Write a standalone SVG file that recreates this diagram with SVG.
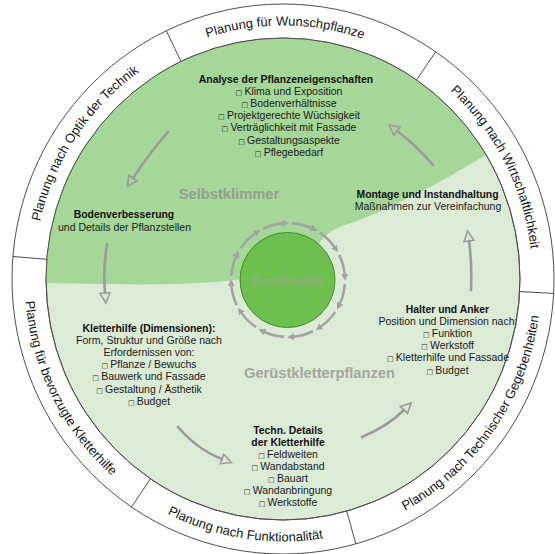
<svg xmlns="http://www.w3.org/2000/svg" width="555" height="554" viewBox="0 0 555 554">
<style>
.ring{font-family:"Liberation Sans",Arial,sans-serif;font-size:13px;fill:#151515}
.t{font-family:"Liberation Sans",Arial,sans-serif;font-size:10.5px;fill:#1a1a1a;text-anchor:middle}
.b{font-weight:bold;font-size:10.4px;fill:#111}
.bx{font-family:"DejaVu Sans",sans-serif;font-size:7px}
.big{font-family:"Liberation Sans",Arial,sans-serif;font-size:14.7px;font-weight:bold;text-anchor:middle}
.div{stroke:#3a3a3a;stroke-width:0.9;fill:none}
.arr{fill:none;stroke:#9b9b9b;stroke-width:2.6;stroke-linecap:round}
.dash{fill:none;stroke:#a3a3a3;stroke-width:2.6}
</style>
<defs>
<marker id="ah" markerWidth="16" markerHeight="16" refX="1" refY="6" orient="auto" markerUnits="userSpaceOnUse">
<path d="M1,1 L11,6 L1,11 Z" fill="none" stroke="#9b9b9b" stroke-width="1.6" stroke-linejoin="miter"/>
</marker>
<marker id="sh" markerWidth="8" markerHeight="8" refX="2" refY="3.5" orient="auto" markerUnits="userSpaceOnUse">
<path d="M0,0 L7,3.5 L0,7 Z" fill="#a3a3a3"/>
</marker>
<path id="p1" d="M160.15,58.35 A249.5,253.5 0 0,1 409.6,60.6"/>
<path id="p2" d="M417.4,65.4 A249.5,253.5 0 0,1 532.2,290.5"/>
<path id="p3" d="M384.0,520.6 A258.5,262.5 0 0,0 541.1,292.7"/>
<path id="p4" d="M121.0,483.6 A258.5,262.5 0 0,0 376.5,523.7"/>
<path id="p5" d="M25.6,255.2 A258.5,262.5 0 0,0 149.1,503.5"/>
<path id="p6" d="M34.1,261.3 A249.5,253.5 0 0,1 173.6,51.2"/>
</defs>
<rect width="555" height="554" fill="#ffffff"/>

<g id="outer-ring">
<ellipse cx="283" cy="279" rx="271" ry="275" fill="#ffffff" stroke="#3a3a3a" stroke-width="0.9"/>
<line class="div" x1="181.0" y1="61.5" x2="166.3" y2="30.8"/>
<line class="div" x1="416.6" y1="79.9" x2="435.7" y2="51.8"/>
<line class="div" x1="519.7" y1="291.6" x2="553.6" y2="293.4"/>
<line class="div" x1="346.7" y1="511.1" x2="355.9" y2="543.9"/>
<line class="div" x1="150.5" y1="478.8" x2="131.5" y2="507.0"/>
<line class="div" x1="46.8" y1="259.3" x2="12.9" y2="256.5"/>
</g>
<g id="ring-wunschpflanze"><text class="ring"><textPath href="#p1" startOffset="50%" text-anchor="middle">Planung für Wunschpflanze</textPath></text></g>
<g id="ring-wirtschaftlichkeit"><text class="ring"><textPath href="#p2" startOffset="50%" text-anchor="middle">Planung nach Wirtschaftlichkeit</textPath></text></g>
<g id="ring-technisch"><text class="ring"><textPath href="#p3" startOffset="50%" text-anchor="middle">Planung nach Technischer Gegebenheiten</textPath></text></g>
<g id="ring-funktionalitaet"><text class="ring"><textPath href="#p4" startOffset="50%" text-anchor="middle">Planung nach Funktionalität</textPath></text></g>
<g id="ring-kletterhilfe"><text class="ring"><textPath href="#p5" startOffset="50%" text-anchor="middle">Planung für bevorzugte Kletterhilfe</textPath></text></g>
<g id="ring-optik"><text class="ring"><textPath href="#p6" startOffset="50%" text-anchor="middle">Planung nach Optik der Technik</textPath></text></g>

<g id="inner-disk">
<ellipse cx="283" cy="279" rx="237" ry="241" fill="#dcebd6" stroke="#4a4a4a" stroke-width="0.9"/>
<path d="M46,283 C100,284 190,287 241,279 L287,280 L318,246 C322,238 330,230 345,225 C370,217 390,207 420,192 C445,180 465,167 486,155 A237,241 0 0,0 46,283 Z" fill="#a5d798"/>
<ellipse cx="283" cy="279" rx="237" ry="241" fill="none" stroke="#4a4a4a" stroke-width="0.9"/>
</g>

<g id="label-selbstklimmer"><text class="big" x="229" y="198.5" fill="#939f8f">Selbstklimmer</text></g>
<g id="label-geruest"><text class="big" x="319.5" y="378" fill="#a2a8a0">Gerüstkletterpflanzen</text></g>

<g id="connectors">
<path class="arr" d="M168,132 Q151,151 133,178" marker-end="url(#ah)"/>
<path class="arr" d="M107,244 Q103,270 105,293" marker-end="url(#ah)"/>
<path class="arr" d="M178,427 Q198,450 222,459" marker-end="url(#ah)"/>
<path class="arr" d="M362,437 Q388,426 404,410" marker-end="url(#ah)"/>
<path class="arr" d="M471,290 Q472,262 469,241" marker-end="url(#ah)"/>
<path class="arr" d="M433,165 Q416,145 397,131" marker-end="url(#ah)"/>
</g>

<g id="cycle-ring">
<path class="dash" d="M344.86,283.98 A57,57 0 0,1 339.23,304.99" marker-end="url(#sh)"/>
<path class="dash" d="M335.26,311.87 A57,57 0 0,1 319.87,327.26" marker-end="url(#sh)"/>
<path class="dash" d="M312.99,331.23 A57,57 0 0,1 291.98,336.86" marker-end="url(#sh)"/>
<path class="dash" d="M284.02,336.86 A57,57 0 0,1 263.01,331.23" marker-end="url(#sh)"/>
<path class="dash" d="M256.13,327.26 A57,57 0 0,1 240.74,311.87" marker-end="url(#sh)"/>
<path class="dash" d="M236.77,304.99 A57,57 0 0,1 231.14,283.98" marker-end="url(#sh)"/>
<path class="dash" d="M231.14,276.02 A57,57 0 0,1 236.77,255.01" marker-end="url(#sh)"/>
<path class="dash" d="M240.74,248.13 A57,57 0 0,1 256.13,232.74" marker-end="url(#sh)"/>
<path class="dash" d="M263.01,228.77 A57,57 0 0,1 284.02,223.14" marker-end="url(#sh)"/>
<path class="dash" d="M291.98,223.14 A57,57 0 0,1 312.99,228.77" marker-end="url(#sh)"/>
<path class="dash" d="M319.87,232.74 A57,57 0 0,1 335.26,248.13" marker-end="url(#sh)"/>
<path class="dash" d="M339.23,255.01 A57,57 0 0,1 344.86,276.02" marker-end="url(#sh)"/>
</g>

<g id="center">
<circle cx="287.5" cy="280" r="47.5" fill="#6dc04d" stroke="#3f8c2e" stroke-width="1"/>
<text x="287.5" y="285" font-family="Liberation Sans, Arial, sans-serif" font-size="13.5" font-weight="bold" fill="#8fae7c" text-anchor="middle">Kontinuität</text>
</g>

<g id="node-analyse">
<text class="t"><tspan class="b" x="286" y="83">Analyse der Pflanzeneigenschaften</tspan><tspan class="bx" x="289" y="95.1">□ </tspan><tspan>Klima und Exposition</tspan><tspan class="bx" x="289" y="107.2">□ </tspan><tspan>Bodenverhältnisse</tspan><tspan class="bx" x="289" y="119.3">□ </tspan><tspan>Projektgerechte Wüchsigkeit</tspan><tspan class="bx" x="289" y="131.4">□ </tspan><tspan>Verträglichkeit mit Fassade</tspan><tspan class="bx" x="289" y="143.5">□ </tspan><tspan>Gestaltungsaspekte</tspan><tspan class="bx" x="289" y="155.6">□ </tspan><tspan>Pflegebedarf</tspan></text>
</g>

<g id="node-boden">
<text class="t"><tspan class="b" x="124" y="218">Bodenverbesserung</tspan><tspan x="124.5" y="230.5">und Details der Pflanzstellen</tspan></text>
</g>

<g id="node-montage">
<text class="t"><tspan class="b" x="427.5" y="198">Montage und Instandhaltung</tspan><tspan x="428" y="210.2">Maßnahmen zur Vereinfachung</tspan></text>
</g>

<g id="node-kletterhilfe">
<text class="t"><tspan class="b" x="149" y="332">Kletterhilfe (Dimensionen):</tspan><tspan x="149" y="344.1">Form, Struktur und Größe nach</tspan><tspan x="149" y="356.2">Erfordernissen von:</tspan><tspan class="bx" x="149" y="368.3">□ </tspan><tspan>Pflanze / Bewuchs</tspan><tspan class="bx" x="149" y="380.4">□ </tspan><tspan>Bauwerk und Fassade</tspan><tspan class="bx" x="149" y="392.5">□ </tspan><tspan>Gestaltung / Ästhetik</tspan><tspan class="bx" x="149" y="404.6">□ </tspan><tspan>Budget</tspan></text>
</g>

<g id="node-halter">
<text class="t"><tspan class="b" x="447.5" y="313">Halter und Anker</tspan><tspan x="448" y="325.1">Position und Dimension nach:</tspan><tspan class="bx" x="447.5" y="337.2">□ </tspan><tspan>Funktion</tspan><tspan class="bx" x="447.5" y="349.3">□ </tspan><tspan>Werkstoff</tspan><tspan class="bx" x="448" y="361.4">□ </tspan><tspan>Kletterhilfe und Fassade</tspan><tspan class="bx" x="447.5" y="373.5">□ </tspan><tspan>Budget</tspan></text>
</g>

<g id="node-techn">
<text class="t"><tspan class="b" x="288" y="433.5">Techn. Details</tspan><tspan class="b" x="288" y="445.6">der Kletterhilfe</tspan><tspan class="bx" x="288" y="457.7">□ </tspan><tspan>Feldweiten</tspan><tspan class="bx" x="288" y="469.8">□ </tspan><tspan>Wandabstand</tspan><tspan class="bx" x="288" y="481.9">□ </tspan><tspan>Bauart</tspan><tspan class="bx" x="288" y="494">□ </tspan><tspan>Wandanbringung</tspan><tspan class="bx" x="288" y="506.1">□ </tspan><tspan>Werkstoffe</tspan></text>
</g>
</svg>
